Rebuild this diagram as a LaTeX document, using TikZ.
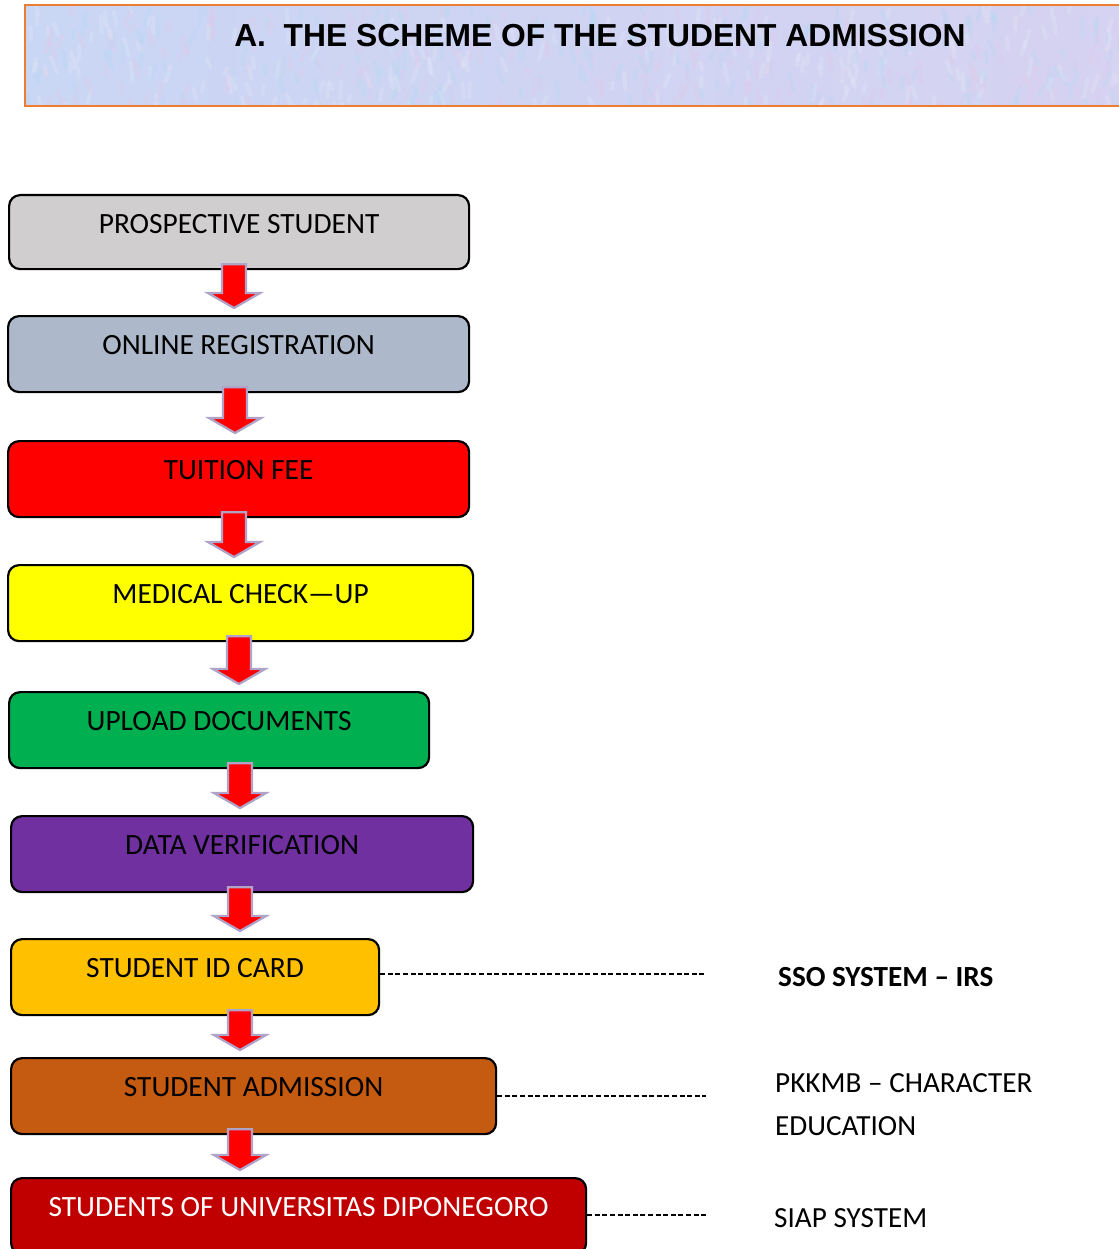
\documentclass[tikz,border=0pt]{standalone}
\usepackage{fontspec}
\setmainfont{Carlito}
\newfontfamily\titlefont{Liberation Sans}
\usetikzlibrary{calc}

% box fills
\definecolor{cProspect}{HTML}{D0CECE}
\definecolor{cOnline}{HTML}{ADB9CA}
\definecolor{cFee}{HTML}{FF0000}
\definecolor{cMedical}{HTML}{FFFF00}
\definecolor{cUpload}{HTML}{00B050}
\definecolor{cVerify}{HTML}{7030A0}
\definecolor{cCard}{HTML}{FFC000}
\definecolor{cAdmit}{HTML}{C55A11}
\definecolor{cUndip}{HTML}{C00000}
% header band
\definecolor{cBandEdge}{HTML}{ED7D31}
\definecolor{cBandA}{HTML}{C9D6F4}
\definecolor{cBandB}{HTML}{D6D2F1}
\definecolor{cBlotPink}{HTML}{E3C9EA}
\definecolor{cBlotCyan}{HTML}{B5D9F2}
\definecolor{cBlotPale}{HTML}{E4E8F8}
% block arrows
\definecolor{cArrowEdge}{HTML}{AFA3C9}
\definecolor{cArrowShade}{HTML}{86818F}

\tikzset{
  stage/.style={draw=black, line width=2.2pt, rounded corners=11pt,
    anchor=north west, inner xsep=0pt, inner ysep=0pt,
    text height=38pt, align=center,
    font=\fontsize{29.4}{32}\selectfont},
  sidenote/.style={anchor=base west, inner sep=0pt,
    font=\fontsize{29.2}{32}\selectfont},
  leader/.style={draw=black, line width=1.3pt, dash pattern=on 5pt off 2.6pt},
  arrowbody/.style={fill=cFee, draw=cArrowEdge, line width=2.2pt, line join=miter},
  arrowshade/.style={fill=cArrowShade, draw=cArrowShade, line width=1.5pt, line join=miter},
}

% block arrow from the bottom of #1 to the top of #2, centred at x = #3
\newcommand\flowarrow[3]{%
  \foreach \dy/\sty in {-6pt/arrowshade, 0pt/arrowbody}{
    \path[\sty, yshift=\dy] let \p1=(#1.south), \p2=(#2.north) in
      (#3pt-12pt,\y1+6pt) -- (#3pt+12pt,\y1+6pt) -- (#3pt+12pt,\y2+22pt)
      -- (#3pt+26pt,\y2+22pt) -- (#3pt,\y2+7pt) -- (#3pt-26pt,\y2+22pt)
      -- (#3pt-12pt,\y2+22pt) -- cycle;
  }%
}

\begin{document}
\begin{tikzpicture}[x=1pt,y=-1pt]
\useasboundingbox (0,0) rectangle (1118,1249);

% header band with a soft mottled paper texture
\begin{scope}
  \clip (25,5) rectangle (1130,106);
  \shade[left color=cBandA, right color=cBandB] (25,5) rectangle (1130,106);
  \pgfmathsetseed{11}
  \foreach \i in {1,...,600}{
    \pgfmathsetmacro\bx{25+1100*rnd}
    \pgfmathsetmacro\by{5+101*rnd}
    \pgfmathsetmacro\bl{6+12*rnd}
    \pgfmathsetmacro\ba{65+50*rnd}
    \pgfmathtruncatemacro\bk{mod(\i,3)}
    \ifnum\bk=0
      \draw[cBlotPink, opacity=0.3, line width=4pt, line cap=round] (\bx,\by) -- ++(\ba:\bl);
    \else\ifnum\bk=1
      \draw[cBlotCyan, opacity=0.3, line width=4pt, line cap=round] (\bx,\by) -- ++(\ba:\bl);
    \else
      \draw[cBlotPale, opacity=0.3, line width=4pt, line cap=round] (\bx,\by) -- ++(\ba:\bl);
    \fi\fi
  }
\end{scope}
\draw[cBandEdge, line width=2.8pt] (25,5) rectangle (1130,106);
\node[font=\titlefont\bfseries\fontsize{31.8}{34}\selectfont, inner sep=0pt]
  (title) at (600,36) {A.\ \ THE SCHEME OF THE STUDENT ADMISSION};

% process stages
\node[stage, fill=cProspect, minimum width=460pt, text depth=36pt] (prospect) at (8,194) {PROSPECTIVE STUDENT};
\node[stage, fill=cOnline, minimum width=461pt, text depth=38pt] (online) at (7,315) {ONLINE REGISTRATION};
\node[stage, fill=cFee, minimum width=461pt, text depth=38pt] (fee) at (7,440) {TUITION FEE};
\node[stage, fill=cMedical, minimum width=465pt, text depth=38pt] (medical) at (7,564) {MEDICAL CHECK—UP};
\node[stage, fill=cUpload, minimum width=420pt, text depth=38pt] (upload) at (8,691) {UPLOAD DOCUMENTS};
\node[stage, fill=cVerify, minimum width=462pt, text depth=38pt] (verify) at (10,815) {DATA VERIFICATION};
\node[stage, fill=cCard, minimum width=368pt, text depth=38pt] (card) at (10,938) {STUDENT ID CARD};
\node[stage, fill=cAdmit, minimum width=485pt, text depth=38pt] (admit) at (10,1057) {STUDENT ADMISSION};
\node[stage, fill=cUndip, text=white, minimum width=575pt, text depth=38pt] (undip) at (10,1177) {STUDENTS OF UNIVERSITAS DIPONEGORO};

% arrows between stages
\flowarrow{prospect}{online}{234}
\flowarrow{online}{fee}{235}
\flowarrow{fee}{medical}{234}
\flowarrow{medical}{upload}{239}
\flowarrow{upload}{verify}{240}
\flowarrow{verify}{card}{240}
\flowarrow{card}{admit}{240}
\flowarrow{admit}{undip}{240}

% systems attached to the later stages
\coordinate (cardEnd) at (706,974);
\coordinate (admitEnd) at (706,1096);
\coordinate (undipEnd) at (706,1215);
\draw[leader] (card.east |- cardEnd) -- (cardEnd);
\draw[leader] (admit.east |- admitEnd) -- (admitEnd);
\draw[leader] (undip.east |- undipEnd) -- (undipEnd);

\node[sidenote, font=\bfseries\fontsize{29.2}{32}\selectfont] (sso) at (778,986) {SSO SYSTEM – IRS};
\node[sidenote] (pkkmb) at (775,1092) {PKKMB – CHARACTER};
\node[sidenote] (edu) at (775,1135) {EDUCATION};
\node[sidenote] (siap) at (774,1227) {SIAP SYSTEM};
\end{tikzpicture}
\end{document}
